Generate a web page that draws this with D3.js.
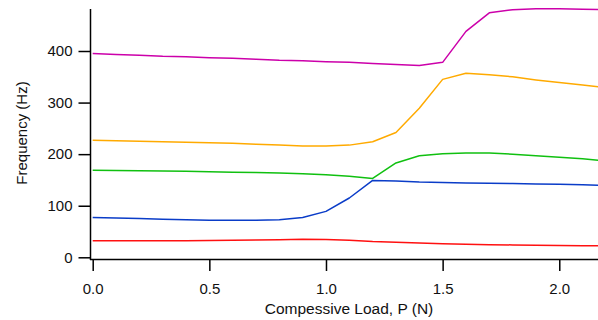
<!DOCTYPE html>
<html>
<head>
<meta charset="utf-8">
<script src="https://cdn.jsdelivr.net/npm/d3@7"></script>
<style>
  html, body { margin: 0; padding: 0; background: #fff; }
  svg { display: block; }
  text { font-family: "Liberation Sans", Arial, sans-serif; fill: #111; }
</style>
</head>
<body>
<svg id="chart" width="598" height="320"></svg>
<script>
// Compressive load (N), sampled every 0.1 N
const load = [0.0, 0.1, 0.2, 0.3, 0.4, 0.5, 0.6, 0.7, 0.8, 0.9, 1.0, 1.1,
              1.2, 1.3, 1.4, 1.5, 1.6, 1.7, 1.8, 1.9, 2.0, 2.1, 2.2];

// Resonant frequencies (Hz) of the five modes
const mode1 = [32, 32, 32, 32, 32, 32.5, 33, 33.5, 34, 35, 34.5, 33,
               30.5, 29, 27.5, 26.5, 25.5, 24.5, 24, 23.5, 23, 22.5, 22];
const mode2 = [77, 76, 75, 74, 73, 72, 72, 72, 73, 77, 89, 115,
               149, 148, 146, 145, 144, 143.5, 143, 142, 141.5, 140.5, 139.5];
const mode3 = [169, 168.5, 168, 167.5, 167, 166, 165, 164.5, 163.5, 162, 160, 157,
               153, 183, 197, 201, 202, 202, 200, 197, 194, 191, 187];
const mode4 = [227, 226, 225, 224, 223, 222, 221, 219, 217.5, 216, 216, 217.5,
               224, 242, 289, 345, 357, 354, 350, 344, 339, 334, 329];
const mode5 = [395, 393, 392, 390, 389, 387, 386, 384, 382, 381, 379, 378,
               376, 374, 372, 378, 438, 474, 480, 482, 482, 481, 480];

const xTicks = [0, 0.5, 1.0, 1.5, 2.0];
const yTicks = [0, 100, 200, 300, 400];

const seriesList = [
  { values: mode1, color: "#ff1010" },
  { values: mode2, color: "#0a3cc8" },
  { values: mode3, color: "#10c010" },
  { values: mode4, color: "#ffaa00" },
  { values: mode5, color: "#cc00aa" }
];

const svg = d3.select("#chart");

const x = d3.scaleLinear().domain([0, 2.166]).range([92.7, 598]);
const y = d3.scaleLinear().domain([0, 400]).range([257.3, 51]);

// clip the curves to the plotting area
svg.append("defs").append("clipPath").attr("id", "plot")
  .append("rect").attr("x", 91).attr("y", 0).attr("width", 507).attr("height", 259);

const line = d3.line()
  .x((d, i) => x(load[i]))
  .y(d => y(d));

const g = svg.append("g").attr("clip-path", "url(#plot)");
seriesList.forEach(s => {
  g.append("path")
    .datum(s.values)
    .attr("fill", "none")
    .attr("stroke", s.color)
    .attr("stroke-width", 1.5)
    .attr("stroke-linejoin", "round")
    .attr("d", line);
});

// Left axis
const yAxis = d3.axisLeft(y)
  .tickValues(yTicks)
  .tickFormat(d3.format("d"))
  .tickSize(12)
  .tickPadding(6);
const gy = svg.append("g").attr("transform", "translate(90.5,0)").call(yAxis);
gy.select(".domain").remove();
gy.append("line")
  .attr("x1", 0).attr("x2", 0).attr("y1", 9).attr("y2", 260)
  .attr("stroke", "#000").attr("stroke-width", 1.5);
gy.selectAll(".tick line").attr("stroke", "#000").attr("stroke-width", 1.5);
gy.selectAll(".tick text").attr("font-size", 15).attr("fill", "#111");

// Bottom axis, ticks hanging below the baseline
const xAxis = d3.axisBottom(x)
  .tickValues(xTicks)
  .tickFormat(d3.format(".1f"))
  .tickSize(11)
  .tickPadding(12);
const gx = svg.append("g").attr("transform", "translate(0,260)").call(xAxis);
gx.select(".domain").remove();
gx.append("line")
  .attr("x1", 90).attr("x2", 598).attr("y1", -0.5).attr("y2", -0.5)
  .attr("stroke", "#000").attr("stroke-width", 1.5);
gx.selectAll(".tick line").attr("stroke", "#000").attr("stroke-width", 1.5);
gx.selectAll(".tick text").attr("font-size", 15).attr("fill", "#111");

// Axis titles
svg.append("text")
  .attr("x", 349).attr("y", 314)
  .attr("text-anchor", "middle")
  .attr("font-size", 15.5)
  .text("Compessive Load, P (N)");

svg.append("text")
  .attr("transform", "translate(27,133) rotate(-90)")
  .attr("text-anchor", "middle")
  .attr("font-size", 15)
  .text("Frequency (Hz)");
</script>
</body>
</html>
